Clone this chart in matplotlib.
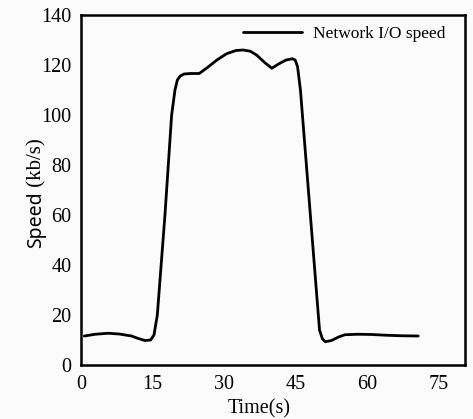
import matplotlib
matplotlib.use("Agg")
import matplotlib.pyplot as plt

plt.rcParams['font.family'] = ['Liberation Serif', 'Noto Sans CJK SC', 'DejaVu Sans']

# Network I/O speed over time
time_s = [0.7, 3, 5.7, 8, 10.6, 12, 13.4, 14.6, 15.3, 16, 17.6, 19.0, 19.7, 20.2,
          20.8, 21.6, 23, 24.8, 26.5, 28.5, 30.5, 32.5, 34, 35.5, 36.8, 38.5, 40,
          41.5, 43, 44.3, 44.9, 45.4, 46, 48, 50, 50.6, 51.2, 52.5, 54, 55.3, 58,
          61, 64, 67, 70.7]
speed_kbs = [11.6, 12.3, 12.7, 12.4, 11.6, 10.6, 9.8, 10.0, 12, 20, 60, 100, 110, 114,
             115.6, 116.4, 116.6, 116.6, 119, 122, 124.5, 125.8, 126, 125.5, 124, 121,
             118.7, 120.5, 122, 122.5, 122, 119.3, 110, 62, 14, 10.5, 9.3, 9.8, 11.2,
             12.1, 12.3, 12.2, 11.9, 11.7, 11.6]
x_ticks = [0, 15, 30, 45, 60, 75]
y_ticks = [0, 20, 40, 60, 80, 100, 120, 140]

W, H = 473, 419
fig = plt.figure(figsize=(W / 100, H / 100), dpi=100, facecolor='#fbfbfb')
ax = fig.add_axes([81 / W, 1 - 365 / H, (465 - 81) / W, (365 - 15) / H])
ax.set_facecolor('#fbfbfb')

ax.plot(time_s, speed_kbs, color='black', lw=2.0, solid_joinstyle='round',
        solid_capstyle='round', label='Network I/O speed')

ax.set_xlim(0, 80.5)
ax.set_ylim(0, 140)
ax.set_xticks(x_ticks)
ax.set_yticks(y_ticks)
ax.tick_params(length=0, labelsize=14.5)
ax.tick_params(axis='x', pad=7)
ax.tick_params(axis='y', pad=7)
for s in ax.spines.values():
    s.set_linewidth(1.8)

# x-axis title, centred under the 0–75 tick span
fig.text((81 + 438) / 2 / W, 1 - 409 / H, 'Time(s)', ha='center', va='center',
         fontsize=14.5)

# y-axis title: sans "Speed" followed by serif unit, sharing one baseline
fig.text(41 / W, 1 - 248 / H, 'Speed', rotation=90, rotation_mode='anchor',
         ha='left', va='baseline', fontsize=14, family=['Noto Sans', 'DejaVu Sans'])
fig.text(41 / W, 1 - 192 / H, ' (kb/s)', rotation=90, rotation_mode='anchor',
         ha='left', va='baseline', fontsize=15, family=['Liberation Serif'])

leg = ax.legend(loc='upper right', bbox_to_anchor=(1, 1.026), frameon=False,
                fontsize=12.5, handlelength=3.4, handletextpad=0.63,
                borderaxespad=0.75)

fig.savefig('out.png', dpi=100, facecolor=fig.get_facecolor())
